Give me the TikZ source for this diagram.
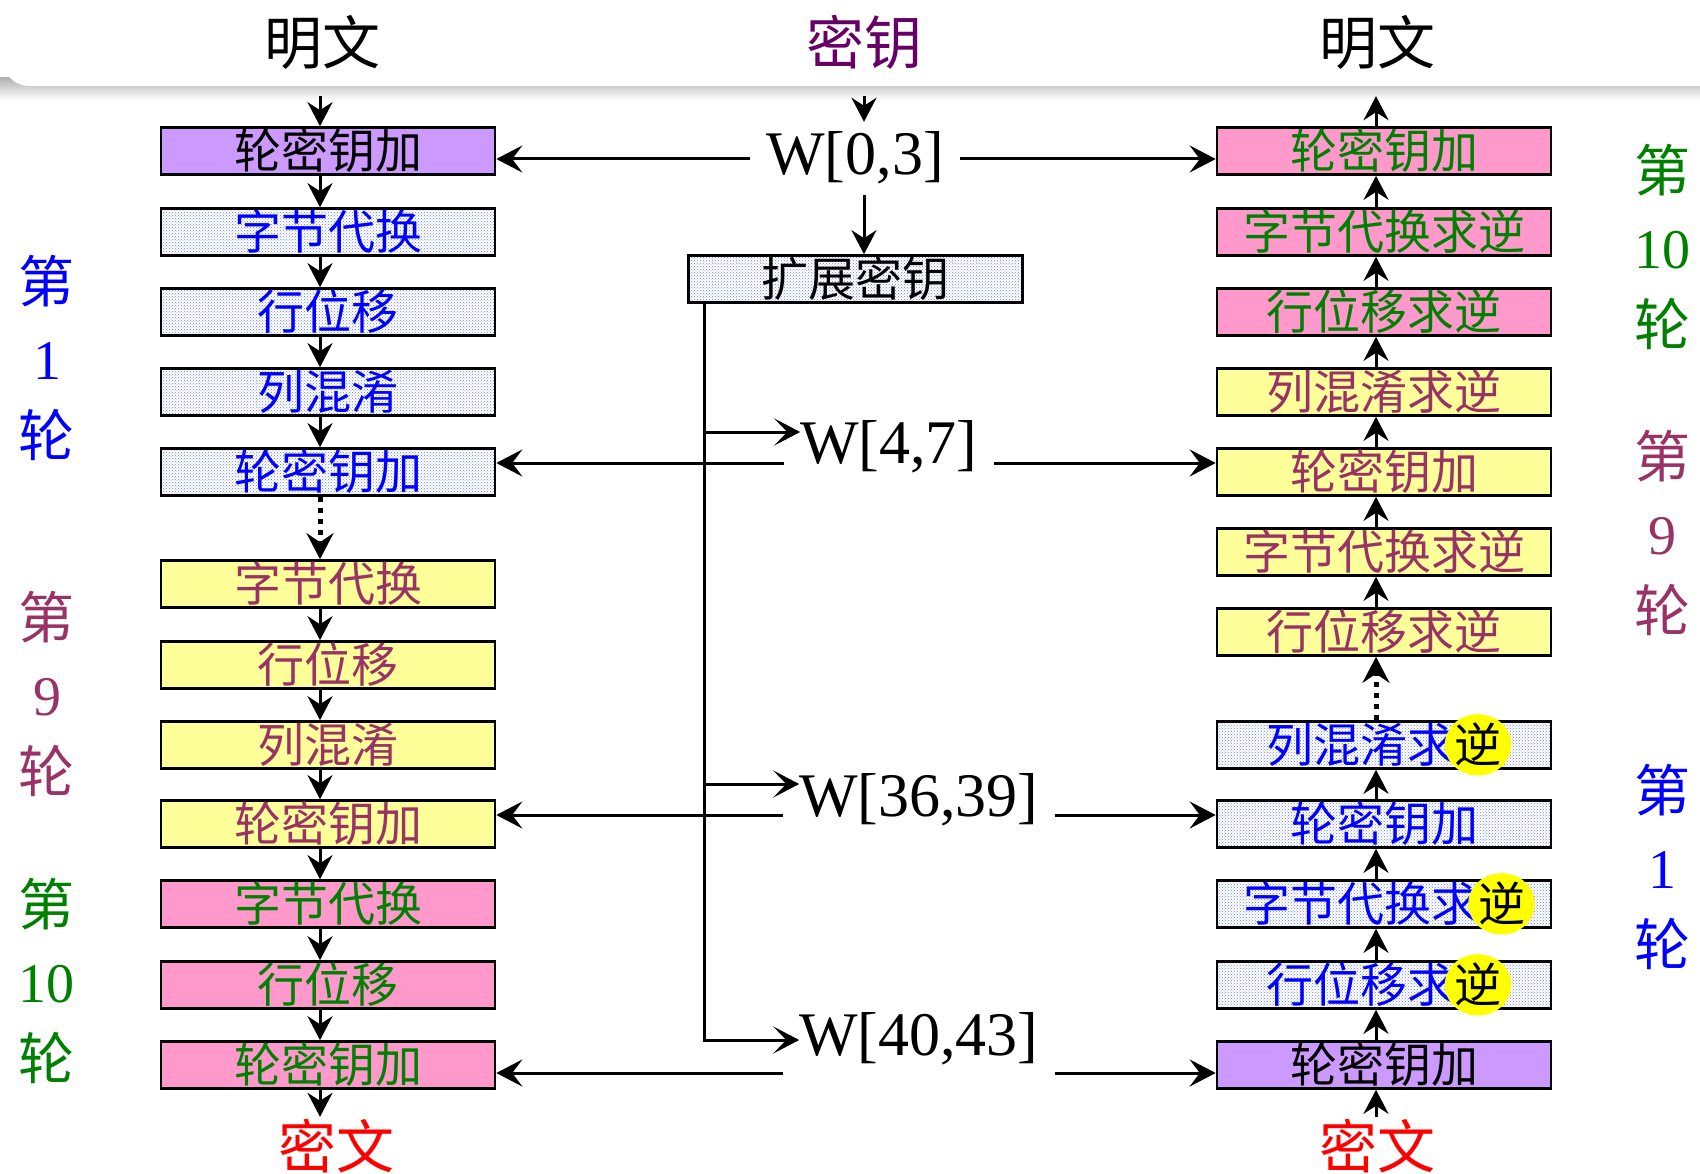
\documentclass[tikz,border=0pt]{standalone}
\usepackage{fontspec}
\setmainfont{Liberation Serif}
\newfontfamily\cjk{Noto Sans CJK SC}
\usetikzlibrary{arrows.meta,shapes.geometric,patterns,calc}
\definecolor{cpurple}{HTML}{CC99FF}
\definecolor{cyellow}{HTML}{FFFF99}
\definecolor{cpink}{HTML}{FF99CC}
\definecolor{cpat}{RGB}{110,135,210}
\definecolor{tblue}{HTML}{0000FF}
\definecolor{tpurple}{HTML}{993366}
\definecolor{tgreen}{HTML}{008000}
\definecolor{kpurple}{HTML}{660066}
\definecolor{cred}{HTML}{FF0000}
\definecolor{hlyel}{HTML}{FFFF00}
\newcommand\boxfont{\cjk\fontsize{47}{50}\selectfont}
\newcommand\titlefont{\cjk\fontsize{58}{62}\selectfont}
\newcommand\wfont{\rmfamily\fontsize{62}{70}\selectfont}
\newcommand\sidefont{\fontsize{56}{77}\selectfont}
\newcommand\hlni{\smash{\makebox[1em]{\tikz[baseline]\node[ellipse,draw=none,fill=hlyel,inner sep=0pt,minimum width=64pt,minimum height=46pt,anchor=base,text=black]{逆};}}}
\tikzset{
  box/.style={draw=black, line width=2.6pt, minimum width=334pt, minimum height=46pt,
    inner sep=0pt, font=\boxfont, text height=41.4pt, text depth=5.6pt},
  pu/.style={box, fill=cpurple, text=black},
  bl/.style={box, preaction={fill=white}, pattern=crosshatch dots, pattern color=cpat},
  ye/.style={box, fill=cyellow, text=tpurple},
  pk/.style={box, fill=cpink, text=tgreen},
  arr/.style={line width=3pt, -{Stealth[length=24pt,width=25pt,inset=8pt]}},
  dotarr/.style={line width=5pt, dash pattern=on 5pt off 6pt, -{Stealth[length=26pt,width=27pt,inset=9pt]}},
  karr/.style={line width=3pt, -{Stealth[length=26pt,width=27pt,inset=10pt]}},
  warr/.style={line width=3pt, -{Stealth[length=26pt,width=27pt,inset=13pt]}},
  wl/.style={font=\wfont, inner xsep=16pt, inner ysep=10pt},
  title/.style={font=\titlefont, text height=51pt, text depth=7pt, inner xsep=0pt, inner ysep=24pt},
  side/.style={align=center, font=\sidefont, inner sep=0pt},
}
\begin{document}
\begin{tikzpicture}[x=1pt,y=-1pt]
\useasboundingbox (0,0) rectangle (1700,1174);
\fill[white] (0,0) rectangle (1700,1174);
% top banner shadow
\shade[top color=black!30, bottom color=white] (0,78) rectangle (1700,100);
\fill[white, rounded corners=26pt] (3,-80) rectangle (1780,86);

% coordinates
\coordinate (lax) at (320,0);
\coordinate (rax) at (1376,0);
\coordinate (kax) at (864,0);
\coordinate (vl) at (704,0);
\coordinate (k03) at (0,159);
\coordinate (k47) at (0,463);
\coordinate (k3639) at (0,815);
\coordinate (k4043) at (0,1073);
\coordinate (a47) at (0,432);
\coordinate (a3639) at (0,784);
\coordinate (a4043) at (0,1040);

% titles
\node[title] (T1) at (322,43) {明文};
\node[title, text=kpurple] (T2) at (864,43) {密钥};
\node[title] (T3) at (1377,43) {明文};
\node[title, text=cred, inner ysep=0pt] (C1) at (336,1146) {密文};
\node[title, text=cred, inner ysep=0pt] (C2) at (1377,1146) {密文};

% left column
\node[pu] (L1) at (328,151) {轮密钥加};
\node[bl, text=tblue] (L2) at (328,232) {字节代换};
\node[bl, text=tblue] (L3) at (328,312) {行位移};
\node[bl, text=tblue] (L4) at (328,392) {列混淆};
\node[bl, text=tblue] (L5) at (328,472) {轮密钥加};
\node[ye] (L6) at (328,584) {字节代换};
\node[ye] (L7) at (328,665) {行位移};
\node[ye] (L8) at (328,745) {列混淆};
\node[ye] (L9) at (328,824) {轮密钥加};
\node[pk] (L10) at (328,904) {字节代换};
\node[pk] (L11) at (328,985) {行位移};
\node[pk] (L12) at (328,1065) {轮密钥加};

% right column
\node[pk] (R1) at (1384,151) {轮密钥加};
\node[pk] (R2) at (1384,232) {字节代换求逆};
\node[pk] (R3) at (1384,312) {行位移求逆};
\node[ye] (R4) at (1384,392) {列混淆求逆};
\node[ye] (R5) at (1384,472) {轮密钥加};
\node[ye] (R6) at (1384,552) {字节代换求逆};
\node[ye] (R7) at (1384,632) {行位移求逆};
\node[bl, text=tblue] (R8) at (1384,745) {列混淆求\hlni};
\node[bl, text=tblue] (R9) at (1384,824) {轮密钥加};
\node[bl, text=tblue] (R10) at (1384,904) {字节代换求\hlni};
\node[bl, text=tblue] (R11) at (1384,985) {行位移求\hlni};
\node[pu] (R12) at (1384,1065) {轮密钥加};

% key expansion
\node[bl, text=black] (KE) at (855.5,279) {扩展密钥};

% W labels
\node[wl, anchor=base] (W03) at (855,175) {W[0,3]};
\node[wl, anchor=base west] (W47) at (784,463) {W[4,7]};
\node[wl, anchor=base west] (W3639) at (783,816) {W[36,39]};
\node[wl, anchor=base west] (W4043) at (783,1055) {W[40,43]};

% side labels
\node[side, text=tblue] (S1) at (47,358) {{\cjk 第}\\1\\{\cjk 轮}};
\node[side, text=tpurple] (S9) at (47,694) {{\cjk 第}\\9\\{\cjk 轮}};
\node[side, text=tgreen] (S10) at (47,981) {{\cjk 第}\\10\\{\cjk 轮}};
\node[side, text=tgreen] (RS10) at (1662,247) {{\cjk 第}\\10\\{\cjk 轮}};
\node[side, text=tpurple] (RS9) at (1662,533) {{\cjk 第}\\9\\{\cjk 轮}};
\node[side, text=tblue] (RS1) at (1662,867) {{\cjk 第}\\1\\{\cjk 轮}};

% left flow
\draw[arr] (T1.south -| lax) -- (L1.north -| lax);
\foreach \a/\b in {L1/L2,L2/L3,L3/L4,L4/L5,L6/L7,L7/L8,L8/L9,L9/L10,L10/L11,L11/L12}
  \draw[arr] (\a.south -| lax) -- (\b.north -| lax);
\draw[dotarr] (L5.south -| lax) -- (L6.north -| lax);
\draw[arr] (L12.south -| lax) -- (C1.north -| lax);

% right flow (upwards)
\draw[arr] (R1.north -| rax) -- (T3.south -| rax);
\foreach \a/\b in {R2/R1,R3/R2,R4/R3,R5/R4,R6/R5,R7/R6,R9/R8,R10/R9,R11/R10,R12/R11}
  \draw[arr] (\a.north -| rax) -- (\b.south -| rax);
\draw[dotarr] (R8.north -| rax) -- (R7.south -| rax);
\draw[arr] (C2.north -| rax) -- (R12.south -| rax);

% key flow
\draw[arr] (T2.south -| kax) -- (W03.north -| kax);
\draw[arr] (W03.south -| kax) -- (KE.north -| kax);
\draw[warr] (KE.south -| vl) |- (W4043.text |- a4043);
\draw[warr] (vl |- a47) -- (W47.text |- a47);
\draw[warr] (vl |- a3639) -- (W3639.text |- a3639);

% round keys to boxes
\draw[karr] (W03.west |- k03) -- (L1.east |- k03);
\draw[karr] (W03.east |- k03) -- (R1.west |- k03);
\draw[karr] (W47.west |- k47) -- (L5.east |- k47);
\draw[karr] (W47.east |- k47) -- (R5.west |- k47);
\draw[karr] (W3639.west |- k3639) -- (L9.east |- k3639);
\draw[karr] (W3639.east |- k3639) -- (R9.west |- k3639);
\draw[karr] (W4043.west |- k4043) -- (L12.east |- k4043);
\draw[karr] (W4043.east |- k4043) -- (R12.west |- k4043);
\end{tikzpicture}
\end{document}
